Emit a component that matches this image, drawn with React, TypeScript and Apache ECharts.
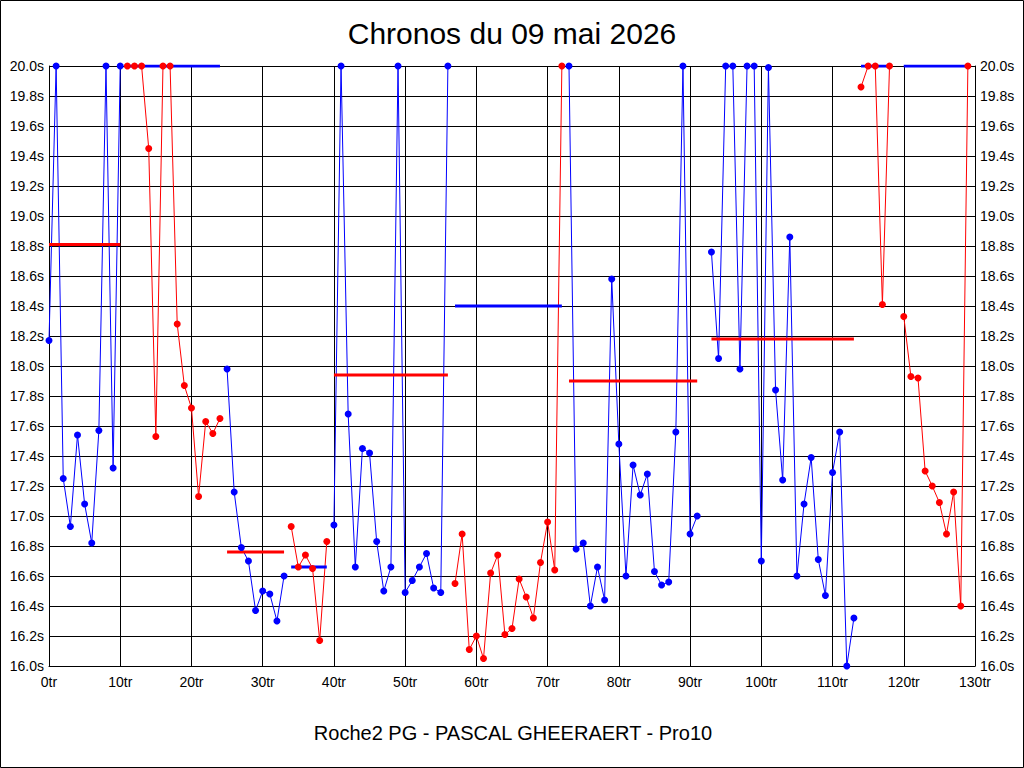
import React, { useEffect, useRef } from 'react';
import * as echarts from 'echarts';

// lap index where each run starts, and the run's lap times (s)
const runStarts = [0, 11, 25, 34, 40, 57, 73, 93, 114, 120];

const run1 = [18.17, 20.0, 17.25, 16.93, 17.54, 17.08, 16.82, 17.57, 20.0, 17.32, 20.0];
const run2 = [20.0, 20.0, 20.0, 19.45, 17.53, 20.0, 20.0, 18.28, 17.87, 17.72, 17.13, 17.63, 17.55, 17.65];
const run3 = [17.98, 17.16, 16.79, 16.7, 16.37, 16.5, 16.48, 16.3, 16.6];
const run4 = [16.93, 16.66, 16.74, 16.65, 16.17, 16.83];
const run5 = [16.94, 20.0, 17.68, 16.66, 17.45, 17.42, 16.83, 16.5, 16.66, 20.0, 16.49, 16.57, 16.66, 16.75, 16.52, 16.49, 20.0];
const run6 = [16.55, 16.88, 16.11, 16.2, 16.05, 16.62, 16.74, 16.21, 16.25, 16.58, 16.46, 16.32, 16.69, 16.96, 16.64, 20.0];
const run7 = [20.0, 16.78, 16.82, 16.4, 16.66, 16.44, 18.58, 17.48, 16.6, 17.34, 17.14, 17.28, 16.63, 16.54, 16.56, 17.56, 20.0, 16.88, 17.0];
const run8 = [18.76, 18.05, 20.0, 20.0, 17.98, 20.0, 20.0, 16.7, 19.99, 17.84, 17.24, 18.86, 16.6, 17.08, 17.39, 16.71, 16.47, 17.29, 17.56, 16.0, 16.32];
const run9 = [19.86, 20.0, 20.0, 18.41, 20.0];
const run10 = [18.33, 17.93, 17.92, 17.3, 17.2, 17.09, 16.88, 17.16, 16.4, 20.0];

const runs = [run1, run2, run3, run4, run5, run6, run7, run8, run9, run10];

// reference level drawn over each run
const runLevels = [18.81, 20.0, 16.76, 16.66, 17.94, 18.4, 17.9, 18.18, 20.0, 20.0];

const xTicks = { min: 0, max: 130, step: 10 };
const yTicks = { min: 16, max: 20, step: 0.2 };

const titleText = 'Chronos du 09 mai 2026';
const footerText = 'Roche2 PG - PASCAL GHEERAERT - Pro10';

const BLUE = '#0000FF';
const RED = '#FF0000';
const runIsBlue = [true, false, true, false, true, false, true, true, false, false];

const App: React.FC = () => {
  const chartRef = useRef<HTMLDivElement | null>(null);

  useEffect(() => {
    if (!chartRef.current) return;
    const chart = echarts.init(chartRef.current, null, { renderer: 'svg' });
    const font = 'Liberation Sans, Arial, sans-serif';

    const lineSeries: any[] = [];
    const levelSeries: any[] = [];
    const dotSeries: any[] = [];

    runs.forEach((vals, i) => {
      const start = runStarts[i];
      const pts = vals.map((v, k) => [start + k, v]);
      const color = runIsBlue[i] ? BLUE : RED;
      const levelColor = runIsBlue[i] ? RED : BLUE;
      lineSeries.push({
        type: 'line',
        data: pts,
        symbol: 'none',
        lineStyle: { color, width: 1, opacity: 1 },
        z: 2,
        silent: true,
      });
      levelSeries.push({
        type: 'line',
        data: [
          [start, runLevels[i]],
          [start + vals.length - 1, runLevels[i]],
        ],
        symbol: 'none',
        lineStyle: { color: levelColor, width: 3, opacity: 1 },
        z: 3,
        silent: true,
      });
      dotSeries.push({
        type: 'scatter',
        data: pts,
        symbol: 'circle',
        symbolSize: 7,
        itemStyle: { color, opacity: 1 },
        z: 4,
        silent: true,
      });
    });

    const yLabel = (v: number) => v.toFixed(1) + 's';

    const option = {
      animation: false,
      backgroundColor: '#ffffff',
      textStyle: { fontFamily: font },
      grid: { left: 49, right: 49, top: 66, bottom: 102, containLabel: false },
      xAxis: {
        type: 'value',
        min: xTicks.min,
        max: xTicks.max,
        interval: xTicks.step,
        axisLine: { show: true, lineStyle: { color: '#000', width: 1 } },
        axisTick: { show: false },
        axisLabel: {
          formatter: (v: number) => v + 'tr',
          color: '#000',
          fontSize: 14,
          fontFamily: font,
          margin: 9,
        },
        splitLine: { show: true, lineStyle: { color: '#000', width: 1 } },
      },
      yAxis: [
        {
          type: 'value',
          position: 'left',
          min: yTicks.min,
          max: yTicks.max,
          interval: yTicks.step,
          axisLine: { show: true, lineStyle: { color: '#000', width: 1 } },
          axisTick: { show: false },
          axisLabel: { formatter: yLabel, color: '#000', fontSize: 14, fontFamily: font, margin: 5 },
          splitLine: { show: true, lineStyle: { color: '#000', width: 1 } },
        },
        {
          type: 'value',
          position: 'right',
          min: yTicks.min,
          max: yTicks.max,
          interval: yTicks.step,
          axisLine: { show: true, lineStyle: { color: '#000', width: 1 } },
          axisTick: { show: false },
          axisLabel: { formatter: yLabel, color: '#000', fontSize: 14, fontFamily: font, margin: 5 },
          splitLine: { show: false },
        },
      ],
      graphic: [
        {
          type: 'rect',
          shape: { x: 0.5, y: 0.5, width: 1023, height: 767 },
          style: { fill: 'none', stroke: '#000', lineWidth: 1 },
          silent: true,
        },
        {
          type: 'text',
          x: 512,
          y: 33,
          style: {
            text: titleText,
            fontSize: 30,
            fontFamily: font,
            fill: '#000',
            textAlign: 'center',
            textVerticalAlign: 'middle',
          },
        },
        {
          type: 'text',
          x: 513,
          y: 733,
          style: {
            text: footerText,
            fontSize: 20,
            fontFamily: font,
            fill: '#000',
            textAlign: 'center',
            textVerticalAlign: 'middle',
          },
        },
      ],
      series: [...lineSeries, ...levelSeries, ...dotSeries],
    };

    chart.setOption(option);

    return () => {
      chart.dispose();
    };
  }, []);

  return (
    <div style={{ position: 'fixed', left: 0, top: 0, width: 1024, height: 768, background: '#fff' }}>
      <div ref={chartRef} style={{ width: 1024, height: 768 }}></div>
    </div>
  );
};

export default App;
